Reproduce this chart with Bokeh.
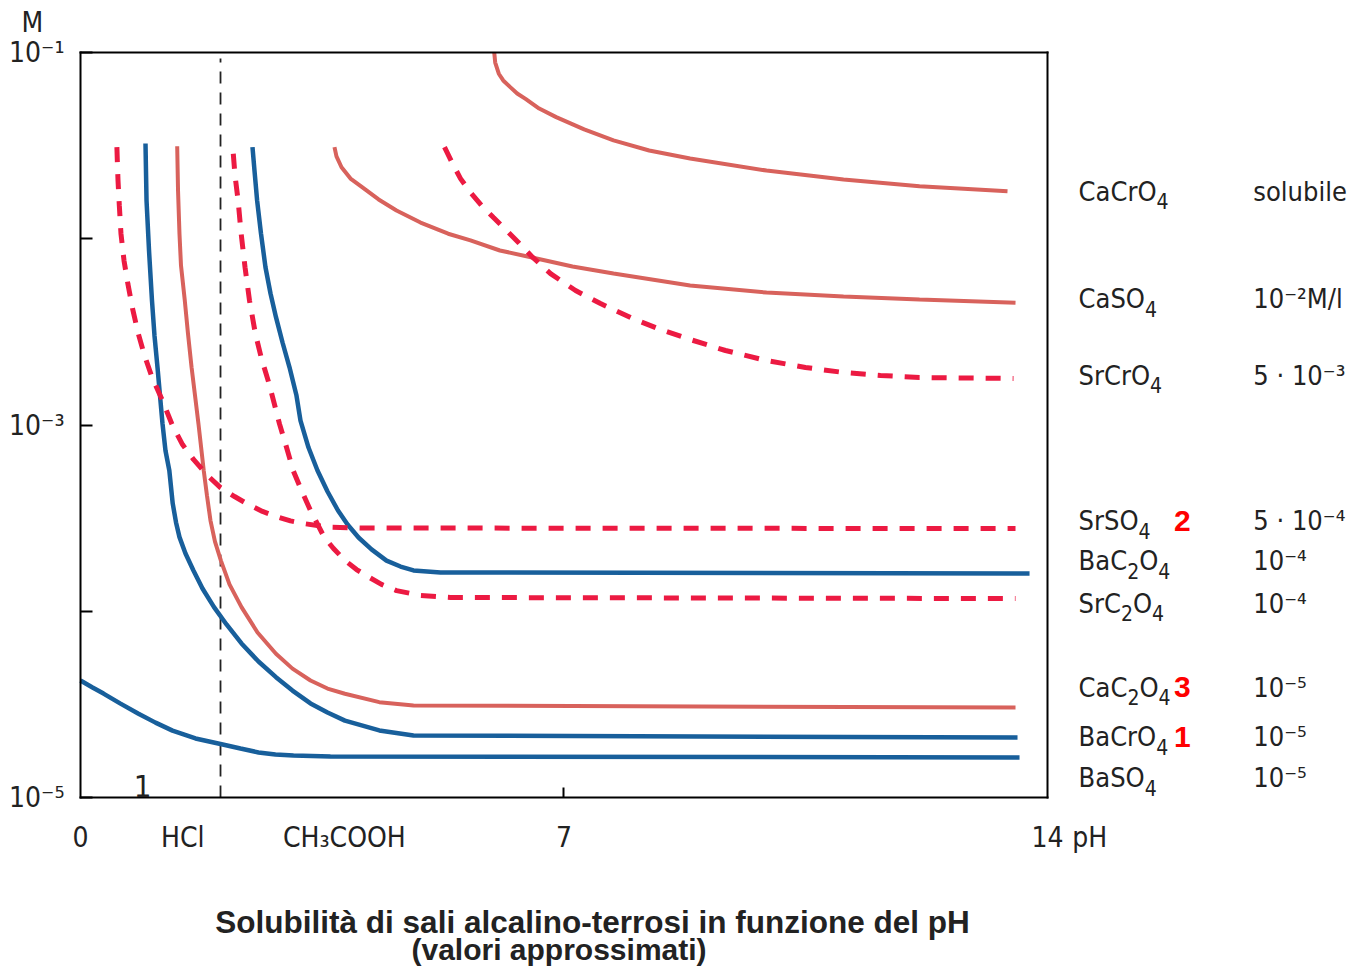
import numpy as np
from bokeh.plotting import figure
from bokeh.models import FixedTicker, CustomJSTickFormatter, Label, LinearAxis, LogAxis
from bokeh.embed import file_html
from bokeh.resources import INLINE

# ---------------- data: pH and log10 of solubility (mol/l) ----------------
ph_BaSO4 = [0.0, 0.174, 0.333, 0.579, 0.840, 1.086, 1.332, 1.665, 2.027, 2.316, 2.577, 2.823, 3.084, 3.619, 13.595]
lg_BaSO4 = [-4.372, -4.409, -4.442, -4.496, -4.550, -4.598, -4.641, -4.683, -4.713, -4.737, -4.758, -4.769, -4.774, -4.780, -4.785]

ph_BaCrO4 = [0.941, 0.948, 0.956, 0.992, 1.035, 1.071, 1.115, 1.151, 1.187, 1.230, 1.286, 1.335, 1.383, 1.433,
             1.520, 1.635, 1.766, 1.933, 2.114, 2.331, 2.577, 2.830, 3.069, 3.330, 3.576, 3.828, 4.326, 4.821, 13.566]
lg_BaCrO4 = [-1.489, -1.634, -1.795, -2.063, -2.332, -2.519, -2.691, -2.842, -2.992, -3.137, -3.244, -3.421, -3.523, -3.602,
             -3.690, -3.781, -3.878, -3.978, -4.071, -4.173, -4.270, -4.354, -4.426, -4.495, -4.544, -4.587, -4.640, -4.667, -4.678]

ph_BaC2O4 = [2.490, 2.519, 2.557, 2.613, 2.678, 2.751, 2.830, 2.925, 3.026, 3.127, 3.185, 3.301, 3.431, 3.576,
             3.728, 3.866, 4.025, 4.213, 4.430, 4.633, 4.821, 5.212, 13.740]
lg_BaC2O4 = [-1.508, -1.634, -1.795, -1.972, -2.153, -2.294, -2.421, -2.557, -2.690, -2.842, -2.976, -3.121, -3.244, -3.357,
             -3.459, -3.534, -3.604, -3.668, -3.728, -3.760, -3.781, -3.792, -3.797]

ph_CaC2O4 = [1.400, 1.412, 1.433, 1.455, 1.510, 1.556, 1.608, 1.658, 1.708, 1.784, 1.831, 1.882, 1.947, 2.033,
             2.157, 2.331, 2.563, 2.830, 3.069, 3.330, 3.576, 3.828, 4.326, 4.821, 13.537]
lg_CaC2O4 = [-1.503, -1.741, -1.973, -2.144, -2.332, -2.509, -2.690, -2.842, -2.994, -3.244, -3.379, -3.513, -3.626, -3.728,
             -3.856, -3.978, -4.114, -4.228, -4.308, -4.372, -4.415, -4.443, -4.488, -4.506, -4.517]

ph_CaSO4 = [3.677, 3.706, 3.779, 3.909, 4.077, 4.316, 4.575, 4.923, 5.323, 5.646, 6.072, 6.521, 7.123, 7.717,
            8.826, 9.932, 11.047, 12.147, 13.537]
lg_CaSO4 = [-1.508, -1.558, -1.616, -1.677, -1.723, -1.789, -1.848, -1.913, -1.973, -2.009, -2.063, -2.099, -2.149, -2.187,
            -2.251, -2.289, -2.310, -2.326, -2.343]

ph_CaCrO4 = [5.990, 6.004, 6.056, 6.120, 6.222, 6.322, 6.443, 6.641, 6.887, 7.292, 7.717, 8.233, 8.826, 9.932,
             11.047, 12.147, 13.421]
lg_CaCrO4 = [-1.000, -1.054, -1.114, -1.150, -1.186, -1.220, -1.249, -1.301, -1.347, -1.413, -1.472, -1.526, -1.569, -1.634,
             -1.682, -1.718, -1.745]

ph_SrSO4 = [0.527, 0.533, 0.543, 0.562, 0.586, 0.630, 0.686, 0.753, 0.837, 0.927, 1.035, 1.186, 1.332, 1.477, 1.636,
            1.839, 2.027, 2.230, 2.432, 2.635, 2.830, 3.040, 3.229, 3.576, 4.054, 13.537]
lg_SrSO4 = [-1.508, -1.580, -1.687, -1.821, -1.973, -2.117, -2.242, -2.374, -2.510, -2.627, -2.743, -2.868, -3.003, -3.105,
            -3.185, -3.271, -3.336, -3.384, -3.427, -3.464, -3.491, -3.515, -3.529, -3.548, -3.553, -3.556]

ph_SrC2O4 = [2.212, 2.237, 2.282, 2.324, 2.382, 2.447, 2.532, 2.620, 2.731, 2.881, 2.975, 3.079, 3.200, 3.330,
             3.528, 3.663, 3.828, 3.996, 4.177, 4.358, 4.575, 4.922, 5.357, 13.537]
lg_SrC2O4 = [-1.544, -1.660, -1.795, -1.966, -2.153, -2.332, -2.510, -2.643, -2.779, -2.994, -3.110, -3.244, -3.352, -3.459,
             -3.602, -3.663, -3.727, -3.776, -3.817, -3.856, -3.889, -3.915, -3.926, -3.932]

ph_SrCrO4 = [5.270, 5.386, 5.502, 5.646, 5.806, 5.979, 6.153, 6.341, 6.544, 6.805, 7.167, 7.528, 7.992, 8.397,
             8.826, 9.338, 9.932, 10.496, 11.047, 11.582, 12.147, 13.508]
lg_SrCrO4 = [-1.508, -1.596, -1.677, -1.752, -1.821, -1.886, -1.950, -2.020, -2.099, -2.187, -2.278, -2.348, -2.428, -2.487,
             -2.541, -2.600, -2.654, -2.691, -2.718, -2.734, -2.745, -2.750]

# HCl limit (vertical dashed reference line)
ph_HCl_line = [2.027, 2.027]
lg_HCl_line = [-5.0, -1.032]

# axes
x_tick_values = [0.0, 1.48, 3.82, 7.0, 14.0]
x_tick_labels = ["0", "HCl", "CH₃COOH", "7", "14"]
x_minor_ticks = [7.0]
y_tick_values = [1e-5, 1e-3, 1e-1]
y_tick_labels = ["10⁻⁵", "10⁻³", "10⁻¹"]
y_minor_ticks = [1e-4, 1e-2]

# right-hand table
salt_names = ["CaCrO₄", "CaSO₄", "SrCrO₄", "SrSO₄", "BaC₂O₄", "SrC₂O₄", "CaC₂O₄", "BaCrO₄", "BaSO₄"]
salt_values = ["solubile", "10⁻²M/l", "5 · 10⁻³", "5 · 10⁻⁴", "10⁻⁴", "10⁻⁴", "10⁻⁵", "10⁻⁵", "10⁻⁵"]
salt_marks = ["", "", "", "2", "", "", "3", "1", ""]

title_lines = ["Solubilità di sali alcalino-terrosi in funzione del pH", "(valori approssimati)"]

# ---------------- layout (placement on the page) ----------------
X_VIEW = (-1.1582, 18.3723)        # pH shown across the canvas
LG_VIEW = (-5.9342, -0.7208)       # log10 M shown across the canvas
PX_PER_PH = 967 / 14
PX_PER_DECADE = 745 / 4
row_lg = [-1.746, -2.321, -2.734, -3.513, -3.728, -3.958, -4.409, -4.673, -4.893]
COL_NAME, COL_MARK, COL_VALUE = 14.45, 15.83, 16.98

BLUE = "#185f9b"
SALMON = "#d8625c"
RED = "#ec1a42"
COND = "'DejaVu Sans Condensed', sans-serif"
SANS = "'Liberation Sans', Arial, sans-serif"
INK = "#222222"
# advance widths (em) of DejaVu Sans Condensed, used to set subscripts after their text
EM = {"C": 0.628, "a": 0.552, "r": 0.370, "O": 0.708, "S": 0.571, "B": 0.618}
EM_DIGIT = 0.573
SUBS = "₀₁₂₃₄₅₆₇₈₉"

p = figure(width=1349, height=971, title=None,
           x_range=X_VIEW, y_range=(10 ** LG_VIEW[0], 10 ** LG_VIEW[1]), y_axis_type="log",
           x_axis_location=None, y_axis_location=None, min_border=0,
           output_backend="svg", toolbar_location=None)
p.background_fill_color = "white"
p.border_fill_color = "white"
p.outline_line_color = None
p.grid.visible = False

xfmt = CustomJSTickFormatter(args=dict(vals=x_tick_values, labels=x_tick_labels), code="""
let b = 0;
for (let i = 0; i < vals.length; i++) { if (Math.abs(vals[i] - tick) < Math.abs(vals[b] - tick)) b = i; }
return labels[b];
""")
yfmt = CustomJSTickFormatter(args=dict(vals=y_tick_values, labels=y_tick_labels), code="""
let b = 0;
const t = Math.log10(tick);
for (let i = 0; i < vals.length; i++) { if (Math.abs(Math.log10(vals[i]) - t) < Math.abs(Math.log10(vals[b]) - t)) b = i; }
return labels[b];
""")

xaxis = LinearAxis(fixed_location=1e-5, bounds=(0, 14),
                   ticker=FixedTicker(ticks=x_tick_values, minor_ticks=x_minor_ticks), formatter=xfmt,
                   major_tick_line_color=None, minor_tick_in=10, minor_tick_out=0,
                   minor_tick_line_width=2, minor_tick_line_color="black",
                   major_label_standoff=17)
yaxis = LogAxis(fixed_location=0, bounds=(1e-5, 1e-1),
                ticker=FixedTicker(ticks=y_tick_values, minor_ticks=y_minor_ticks), formatter=yfmt,
                major_tick_in=12, major_tick_out=0, minor_tick_in=12, minor_tick_out=0,
                major_tick_line_width=2, minor_tick_line_width=2,
                major_tick_line_color="black", minor_tick_line_color="black",
                major_label_standoff=16)
for ax in (xaxis, yaxis):
    ax.axis_line_width = 2
    ax.axis_line_color = "black"
    ax.axis_line_cap = "square"
    ax.major_label_text_font = COND
    ax.major_label_text_font_size = "28px"
    ax.major_label_text_color = INK
p.add_layout(xaxis, "below")
p.add_layout(yaxis, "left")

# top and right edges of the plot box
top_edge = LinearAxis(fixed_location=1e-1, bounds=(0, 14), ticker=FixedTicker(ticks=[]),
                      major_label_text_font_size="0px", axis_line_width=2, axis_line_cap="square")
right_edge = LogAxis(fixed_location=14, bounds=(1e-5, 1e-1), ticker=FixedTicker(ticks=[]),
                     major_label_text_font_size="0px", axis_line_width=2, axis_line_cap="square")
p.add_layout(top_edge, "above")
p.add_layout(right_edge, "right")

def M(lg):
    return 10 ** np.asarray(lg, dtype=float)

p.line(ph_HCl_line, M(lg_HCl_line), line_color=INK, line_width=1.8, line_dash="12 9")

p.line(ph_BaSO4, M(lg_BaSO4), line_color=BLUE, line_width=4.5)
p.line(ph_BaCrO4, M(lg_BaCrO4), line_color=BLUE, line_width=4.5)
p.line(ph_BaC2O4, M(lg_BaC2O4), line_color=BLUE, line_width=4.5)
p.line(ph_CaC2O4, M(lg_CaC2O4), line_color=SALMON, line_width=4)
p.line(ph_CaSO4, M(lg_CaSO4), line_color=SALMON, line_width=4)
p.line(ph_CaCrO4, M(lg_CaCrO4), line_color=SALMON, line_width=4)
dash = dict(line_color=RED, line_width=5, line_dash="15 12")
p.line(ph_SrSO4, M(lg_SrSO4), **dash)
p.line(ph_SrC2O4, M(lg_SrC2O4), **dash)
p.line(ph_SrCrO4, M(lg_SrCrO4), **dash)

def lab(x, lg, text, size="28px", font=COND, align="left", color=INK, style="normal"):
    p.add_layout(Label(x=x, y=10 ** lg, text=text, text_font=font, text_font_size=size,
                       text_align=align, text_baseline="middle", text_color=color,
                       text_font_style=style))

def formula(x, lg, name, size=27, sub_size=21, sub_drop=10):
    """Write a formula with its subscript digits set lower and smaller."""
    chunks = []
    for ch in name:
        is_sub = ch in SUBS
        c = str(SUBS.index(ch)) if is_sub else ch
        if chunks and chunks[-1][1] == is_sub:
            chunks[-1][0] += c
        else:
            chunks.append([c, is_sub])
    off = 0.0
    for text, is_sub in chunks:
        if is_sub:
            lab(x + off / PX_PER_PH, lg - sub_drop / PX_PER_DECADE, text, size=f"{sub_size}px")
            off += len(text) * EM_DIGIT * sub_size
        else:
            lab(x + off / PX_PER_PH, lg, text, size=f"{size}px")
            off += sum(EM.get(c, 0.6) for c in text) * size

lab(-0.854, -0.837, "M")
lab(14.36, -5.215, "pH")
lab(0.90, -4.936, "1", size="31px", align="center")

for name, val, mark, lg in zip(salt_names, salt_values, salt_marks, row_lg):
    formula(COL_NAME, lg, name)
    lab(COL_VALUE, lg, val, size="27px")
    if mark:
        lab(COL_MARK, lg, mark, size="30px", font=SANS, color="#ff0000", style="bold")

lab(7.413, -5.666, title_lines[0], size="31.5px", font=SANS, align="center", style="bold")
lab(6.928, -5.816, title_lines[1], size="30px", font=SANS, align="center", style="bold")

open("out.html", "w").write(file_html(p, INLINE))
